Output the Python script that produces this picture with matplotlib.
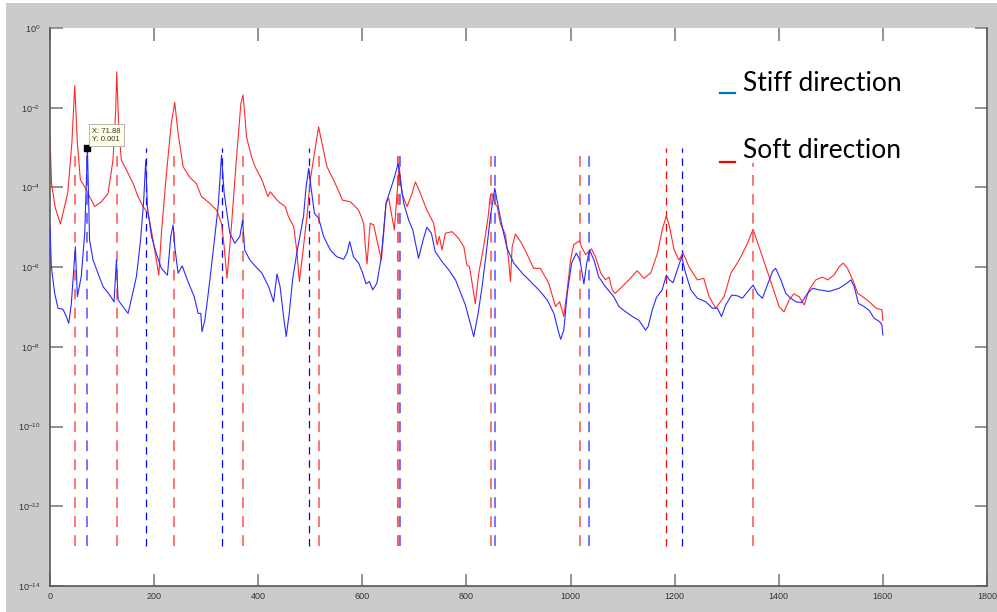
import numpy as np
import matplotlib
matplotlib.use("Agg")
import matplotlib.pyplot as plt
from matplotlib.patches import Rectangle
from matplotlib.lines import Line2D

plt.rcParams['mathtext.default'] = 'regular'
plt.rcParams['font.family'] = ['Liberation Sans', 'DejaVu Sans']

# Soft direction (red) : frequence / log10 amplitude
soft_freq = [0, 3, 10, 20, 34, 42, 47.5, 52.6, 58.3, 66.7, 73, 86, 98.7, 111.5, 121, 126.3, 128.2,
             132, 137, 146.8, 159.6, 169, 178.8, 188.5, 198, 209, 214, 223.7, 233, 239.7, 246,
             255.8, 268.6, 281, 291, 307, 320, 329.5, 334.6, 340, 347.5, 358, 366.7, 371, 377.5,
             387, 394, 407, 418.6, 423, 439, 452, 458, 468, 474, 479, 484, 493.6, 500, 508, 516,
             522.4, 532, 548, 562, 577, 593, 602.6, 605.8, 609, 615, 621.8, 628, 636.5, 641,
             645.5, 650.6, 655.8, 661.5, 666.7, 671, 676, 686, 695.5, 702, 711.5, 724, 737,
             743.6, 748, 753, 759.6, 772.4, 785, 795, 801, 805.8, 812, 817, 823.7, 833, 841.7,
             846, 849, 854.5, 859, 865, 875, 881, 884.6, 887.8, 894, 904, 913.5, 929, 942, 958,
             971, 979, 987, 993.6, 1000, 1006, 1017, 1021, 1029, 1040, 1048, 1058, 1067, 1074,
             1080, 1085, 1093, 1112, 1128, 1141, 1154, 1167, 1176, 1184, 1190, 1199, 1208, 1216,
             1227.5, 1243.6, 1256, 1266, 1279, 1295, 1308, 1324, 1340, 1350.6, 1362, 1375, 1388,
             1400.6, 1410, 1420, 1429, 1439, 1449, 1458, 1471, 1484, 1494, 1506, 1516, 1523.7,
             1532, 1542, 1552, 1561, 1574, 1587, 1598, 1600]
soft_log_amp = [-2.75, -3.9, -4.5, -4.92, -4.14, -2.89, -1.45, -2.89, -3.81, -3.98, -4.15, -4.48,
                -4.36, -4.15, -3.31, -2.06, -1.10, -2.48, -3.31, -3.56, -3.90, -4.23, -4.48, -4.65,
                -5.32, -6.20, -5.15, -3.65, -2.39, -1.87, -2.64, -3.48, -3.75, -3.90, -4.23, -4.40,
                -4.57, -4.90, -5.49, -6.28, -5.15, -3.31, -1.89, -1.68, -2.73, -3.23, -3.48, -3.81,
                -4.23, -4.11, -4.36, -4.48, -4.73, -4.98, -5.57, -6.36, -5.82, -4.73, -3.81, -3.14,
                -2.48, -2.89, -3.48, -3.90, -4.32, -4.36, -4.57, -4.90, -5.49, -5.92, -4.90, -4.94,
                -5.32, -5.82, -5.15, -4.40, -4.27, -4.65, -5.07, -4.15, -3.48, -4.15, -4.48, -4.15,
                -3.86, -4.15, -4.57, -4.90, -5.44, -5.23, -5.57, -5.15, -5.11, -5.28, -5.49, -5.95,
                -5.99, -6.49, -6.92, -6.15, -5.49, -4.73, -4.19, -4.15, -4.40, -4.48, -4.90, -5.19,
                -5.82, -6.36, -5.49, -5.17, -5.36, -5.59, -6.03, -6.03, -6.40, -6.99, -6.87, -7.24,
                -6.57, -5.82, -5.44, -5.34, -5.49, -5.69, -5.54, -5.74, -6.15, -6.32, -6.25, -6.57,
                -6.66, -6.57, -6.32, -6.09, -6.28, -6.15, -5.65, -5.07, -4.71, -4.98, -5.57, -5.82,
                -5.64, -5.99, -6.32, -6.28, -6.74, -7.03, -6.74, -6.15, -5.82, -5.40, -5.05, -5.49,
                -5.99, -6.49, -6.99, -7.12, -6.82, -6.67, -6.74, -6.95, -6.57, -6.32, -6.25, -6.32,
                -6.20, -5.99, -5.90, -6.03, -6.32, -6.66, -6.74, -6.87, -7.03, -7.07, -7.33]

# Stiff direction (blue)
stiff_freq = [0, 2.6, 9, 15.4, 25, 31.4, 36, 41, 46, 48.7, 52.6, 60, 66.7, 69.9, 71.88, 76, 82.7,
              92, 102, 114.8, 123, 127.6, 130.8, 140, 150, 156, 166, 174, 180, 184, 187, 195, 204,
              214, 225.6, 232, 236.5, 239.7, 246, 254, 265, 277, 284.6, 289.7, 292, 297.5, 304,
              313, 323, 329.5, 334.6, 345.5, 355, 364.7, 370, 374, 384, 394, 407, 420, 429.5, 436,
              442, 448.7, 453.8, 459.6, 466, 474, 481, 487, 492, 497, 502, 508, 516, 525.6, 538.5,
              551, 564, 570.5, 575.6, 583, 593, 600.6, 607, 613.5, 620, 628, 636.5, 645.5, 654,
              662, 668.6, 673, 679.5, 689, 697, 708, 716.7, 724, 732.7, 740, 753, 766, 779, 791.7,
              798, 805.8, 814, 822.5, 830, 838, 846, 854.5, 861, 868.6, 878, 891, 907, 923, 939,
              955, 968, 976, 981, 987, 993.6, 1002, 1011, 1018, 1025.6, 1031, 1036.5, 1045, 1054,
              1067, 1083, 1093, 1106, 1119, 1131, 1144, 1149, 1157, 1165, 1176, 1184, 1190, 1197,
              1205, 1213.5, 1221, 1231, 1243.6, 1260, 1272.5, 1282, 1290, 1298, 1309.6, 1320.6,
              1330, 1343, 1350.6, 1359, 1368.6, 1378, 1388, 1394, 1404, 1413.5, 1423, 1433, 1444,
              1455, 1465, 1477.5, 1496.7, 1516, 1529, 1538.5, 1545, 1553, 1564, 1574, 1583, 1594,
              1598, 1600]
stiff_log_amp = [-4.98, -5.99, -6.66, -7.03, -7.06, -7.24, -7.41, -6.91, -5.99, -5.49, -6.74,
                 -6.24, -5.15, -3.81, -3.0, -5.32, -5.82, -6.15, -6.49, -6.70, -6.87, -5.82, -6.82,
                 -6.99, -7.16, -6.82, -6.24, -5.32, -4.32, -3.31, -4.48, -5.23, -5.65, -6.03, -6.20,
                 -5.23, -4.94, -5.49, -6.15, -5.97, -6.36, -6.74, -7.16, -7.16, -7.62, -7.33, -6.66,
                 -5.65, -4.48, -3.19, -4.15, -5.15, -5.40, -5.23, -4.82, -5.57, -5.82, -5.97, -6.15,
                 -6.49, -6.87, -6.17, -6.49, -7.24, -7.74, -7.16, -6.32, -5.65, -5.15, -4.73, -3.98,
                 -3.52, -4.06, -4.65, -4.77, -5.23, -5.57, -5.74, -5.80, -5.65, -5.36, -5.74, -5.90,
                 -6.15, -6.42, -6.36, -6.57, -6.40, -5.74, -4.40, -4.06, -3.73, -3.40, -3.81, -4.40,
                 -4.82, -5.07, -5.78, -5.32, -5.00, -5.15, -5.61, -5.86, -6.07, -6.32, -6.74, -6.95,
                 -7.33, -7.74, -7.16, -6.49, -5.65, -4.73, -4.02, -4.48, -4.98, -5.53, -5.90, -6.15,
                 -6.36, -6.57, -6.82, -7.16, -7.58, -7.81, -7.58, -6.66, -5.90, -5.65, -5.82, -6.42,
                 -5.90, -5.57, -5.82, -6.24, -6.49, -6.74, -6.99, -7.12, -7.24, -7.33, -7.58, -7.49,
                 -7.07, -6.76, -6.57, -6.20, -6.32, -6.39, -6.07, -5.74, -6.15, -6.57, -6.78, -6.87,
                 -7.03, -7.03, -7.24, -6.95, -6.70, -6.72, -6.78, -6.57, -6.45, -6.66, -6.78, -6.45,
                 -6.11, -6.03, -6.32, -6.66, -6.78, -6.87, -6.89, -6.66, -6.53, -6.57, -6.61, -6.53,
                 -6.42, -6.32, -6.49, -6.91, -6.99, -7.09, -7.28, -7.37, -7.45, -7.70]

# Frequences propres (traits verticaux)
mode_freq = [48, 71.88, 128, 184, 239, 330, 370, 497, 516, 668, 671, 673, 847, 854, 1018, 1035,
             1183, 1214, 1350]
mode_dir = ['soft', 'stiff', 'soft', 'stiff', 'soft', 'stiff', 'soft', 'stiff', 'soft', 'stiff',
            'soft', 'stiff', 'soft', 'stiff', 'soft', 'stiff', 'soft', 'stiff', 'soft']
mode_thin = [False, False, False, True, False, True, False, True, False, False, False, False,
             False, False, False, False, True, True, False]

fig = plt.figure(figsize=(9.97, 6.12), dpi=100, facecolor='white')
fig.patches.append(Rectangle((6 / 997, 0), 1, (612 - 3) / 612, transform=fig.transFigure,
                             facecolor='#cbcbcb', edgecolor='none', zorder=-10))
ax = fig.add_axes([50 / 997, 26 / 612, 937 / 997, 558 / 612])
ax.set_facecolor('white')

# traits verticaux
for f, d, thin in zip(mode_freq, mode_dir, mode_thin):
    if d == 'soft':
        col = '#ff0000' if thin else '#ff6a6a'
    else:
        col = '#0000ff' if thin else '#6a6aff'
    ax.vlines(f, 1e-13, 1e-3, colors=col, linewidth=0.9 if thin else 1.3,
              linestyles=(0, (6, 4.5)), zorder=1)

ax.plot(soft_freq, 10 ** np.array(soft_log_amp), color='#ff2a2a', linewidth=0.8, zorder=2)
ax.plot(stiff_freq, 10 ** np.array(stiff_log_amp), color='#2a2aff', linewidth=0.8, zorder=3)

ax.set_yscale('log')
ax.set_xlim(0, 1800)
ax.set_ylim(1e-14, 1e0)
ax.set_yticks([10.0 ** e for e in range(-14, 1, 2)])
ax.set_yticklabels(['$10^{%d}$' % e for e in range(-14, 1, 2)])
ax.yaxis.set_minor_locator(matplotlib.ticker.NullLocator())
ax.set_xticks(range(0, 1801, 200))
ax.tick_params(direction='in', length=9, width=1.3, color='#8a8a8a', top=True, right=True,
               labelsize=6.5, labelcolor='#333333')
ax.tick_params(axis='y', pad=7)
ax.tick_params(axis='x', pad=4)
for side in ['left', 'bottom', 'right']:
    ax.spines[side].set_color('#5a5a5a')
    ax.spines[side].set_linewidth(1.2)
ax.spines['top'].set_visible(False)

# data tip
ax.plot([71.88], [1e-3], 's', color='black', markersize=4, zorder=6)
ax.annotate('X: 71.88\nY: 0.001', xy=(71.88, 1e-3), xytext=(5, 5), textcoords='offset pixels',
            fontsize=5.5, color='#333333', ha='left', va='bottom', zorder=7,
            bbox=dict(boxstyle='square,pad=0.45', facecolor='#ffffe1', edgecolor='#aaaaaa',
                      linewidth=0.6))

# legende texte
fig.text(743 / 997, 1 - 91 / 612, 'Stiff direction', fontsize=19, family='Lato',
         va='baseline', ha='left', color='black',
         bbox=dict(facecolor='white', edgecolor='none', pad=0))
fig.text(743 / 997, 1 - 158 / 612, 'Soft direction', fontsize=19, family='Lato',
         va='baseline', ha='left', color='black',
         bbox=dict(facecolor='white', edgecolor='none', pad=0))
fig.add_artist(Line2D([720 / 997, 735 / 997], [1 - 93 / 612] * 2, color='#0070c0', linewidth=1.6))
fig.add_artist(Line2D([720 / 997, 735 / 997], [1 - 162 / 612] * 2, color='#ff0000', linewidth=1.6))

plt.savefig('out.png', dpi=100, facecolor=fig.get_facecolor())
